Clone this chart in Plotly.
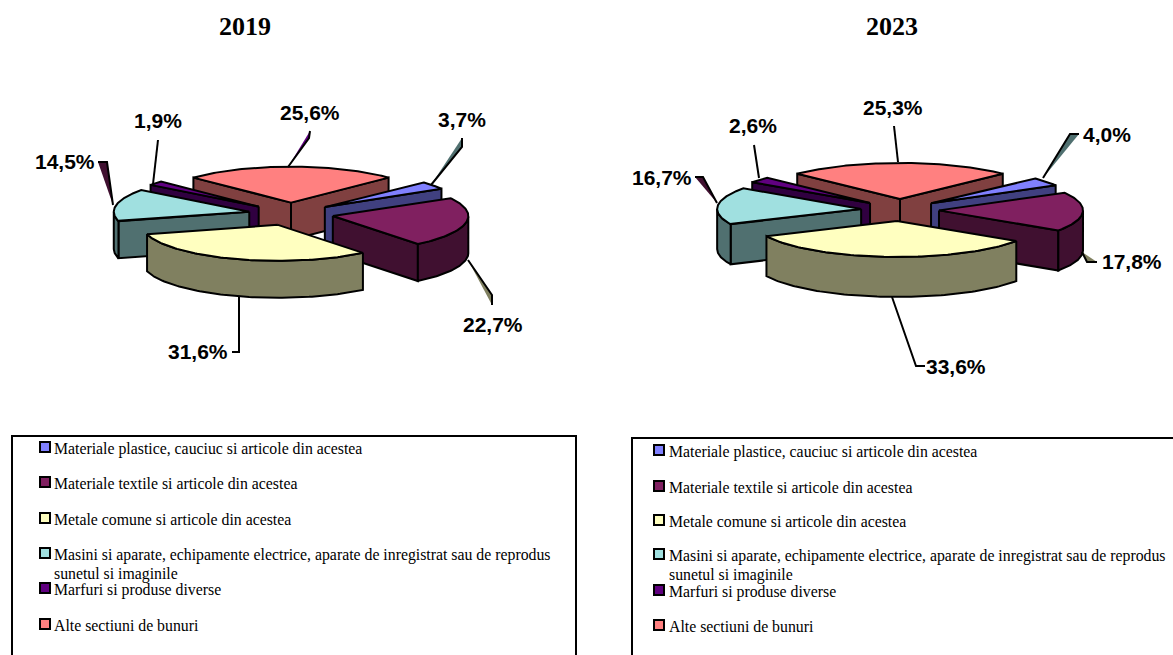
import numpy as np
import plotly.graph_objects as go

categories = ["Materiale plastice, cauciuc si articole din acestea",
              "Materiale textile si articole din acestea",
              "Metale comune si articole din acestea",
              "Masini si aparate, echipamente electrice, aparate de inregistrat sau de reprodus<br>sunetul si imaginile",
              "Marfuri si produse diverse",
              "Alte sectiuni de bunuri"]
values_2019 = [3.7, 22.7, 31.6, 14.5, 1.9, 25.6]
values_2023 = [4.0, 17.8, 33.6, 16.7, 2.6, 25.3]
top_colors = ["#8080FF", "#802060", "#FFFFC0", "#A0E0E0", "#600080", "#FF8080"]
side_colors = ["#404080", "#401030", "#808060", "#507070", "#300040", "#804040"]
draw_order = [5, 0, 4, 3, 1, 2]

fig = go.Figure()


def poly(xs, ys, color, width=2):
    fig.add_trace(go.Scatter(x=list(xs) + [xs[0]], y=list(ys) + [ys[0]], mode="lines", fill="toself",
                             fillcolor=color, line=dict(color="#000000", width=width), hoverinfo="skip"))


def pie(values, cx, cy, a, b, depth, ex_x, ex_y):
    vals = np.array(values, float)
    # the last slice is centred on the top of the ellipse
    start = vals[-1] * 1.8
    edges = start + np.concatenate([[0], np.cumsum(vals)[:-1]]) * 3.6
    for i in draw_order:
        t0 = edges[i]
        t1 = t0 + vals[i] * 3.6
        mid = np.radians((t0 + t1) / 2)
        tx = cx + ex_x * np.sin(mid)
        ty = cy - ex_y * np.cos(mid)
        th = np.radians(np.linspace(t0, t1, 90))
        ax = tx + a * np.sin(th)
        ay = ty - b * np.cos(th)
        # radial cut faces: the face is visible when its outward normal points down the page
        for (ex, ey, sign) in ((ax[0], ay[0], 1), (ax[-1], ay[-1], -1)):
            if sign * (ex - tx) < 0:
                poly([tx, ex, ex, tx], [ty, ey, ey + depth, ty + depth], side_colors[i])
        # rim, on the front half only
        front = np.cos(th) < 0
        if front.any():
            fx, fy = ax[front], ay[front]
            poly(list(fx) + list(fx[::-1]), list(fy) + list(fy[::-1] + depth), side_colors[i])
        poly([tx] + list(ax), [ty] + list(ay), top_colors[i])


pie(values_2019, 291, 214, 135.5, 36, 37, 42.5, 11.4)
pie(values_2023, 900, 210, 144, 36, 40, 39, 11)

# leader lines: x list, y list, colour that fills the bend of the line
leaders = [
    ([288, 309, 310], [167, 138, 131], "#600080"),
    ([153, 158], [184, 140], None),
    ([431, 462, 462], [185, 147, 138], "#507070"),
    ([468, 492, 492], [260, 295, 305], "#808060"),
    ([239, 239, 232], [297, 352, 352], None),
    ([113, 107, 98], [205, 162, 162], "#401030"),
    ([898, 894], [162, 126], None),
    ([759, 754], [178, 145], None),
    ([1043, 1070, 1079], [178, 134, 134], "#507070"),
    ([1082, 1087, 1097], [252, 262, 262], "#808060"),
    ([892, 916, 925], [297, 366, 366], None),
    ([717, 703, 695], [203, 177, 177], "#401030"),
]
for xs, ys, col in leaders:
    if col:
        fig.add_trace(go.Scatter(x=xs, y=ys, mode="lines", fill="toself", fillcolor=col,
                                 line=dict(color="#000000", width=2), hoverinfo="skip"))
    else:
        fig.add_trace(go.Scatter(x=xs, y=ys, mode="lines", line=dict(color="#000000", width=2), hoverinfo="skip"))

labels_2019 = ["25,6%", "3,7%", "22,7%", "31,6%", "14,5%", "1,9%"]
label_pos_2019 = [(310, 112), (462, 119), (493, 324), (198, 351), (65, 161), (158, 120)]
labels_2023 = ["25,3%", "4,0%", "17,8%", "33,6%", "16,7%", "2,6%"]
label_pos_2023 = [(893, 107), (1107, 134), (1132, 261), (956, 366), (662, 177), (753, 125)]

ann = []
for txt, (x, y) in list(zip(labels_2019, label_pos_2019)) + list(zip(labels_2023, label_pos_2023)):
    ann.append(dict(x=x, y=y, text="<b>" + txt + "</b>", showarrow=False, xanchor="center", yanchor="middle",
                    font=dict(family="Liberation Sans", size=21, color="#000000")))
for txt, x in (("2019", 245), ("2023", 892)):
    ann.append(dict(x=x, y=26, text="<b>" + txt + "</b>", showarrow=False, xanchor="center", yanchor="middle",
                    font=dict(family="Liberation Serif", size=26, color="#000000")))

legend_rows_2019 = [447, 482, 518, 553, 588, 624]
legend_rows_2023 = [450, 486, 520, 554, 590, 625]
for (rows, mx, tx) in ((legend_rows_2019, 45, 52), (legend_rows_2023, 659, 667)):
    fig.add_trace(go.Scatter(x=[mx] * 6, y=rows, mode="markers", hoverinfo="skip",
                             marker=dict(symbol="square", size=10, color=top_colors,
                                         line=dict(color="#000000", width=2))))
    for txt, y in zip(categories, rows):
        for k, part in enumerate(txt.split("<br>")):
            ann.append(dict(x=tx, y=y - 9 + 18.5 * k, text=part, showarrow=False, xanchor="left", yanchor="top",
                            align="left", font=dict(family="Liberation Serif", size=15.8, color="#000000")))

shapes = [dict(type="rect", x0=12, x1=576, y0=436, y1=670, line=dict(color="#000000", width=2)),
          dict(type="rect", x0=632, x1=1190, y0=438, y1=670, line=dict(color="#000000", width=2))]

fig.update_layout(width=1173, height=655, margin=dict(l=0, r=0, t=0, b=0), showlegend=False,
                  paper_bgcolor="#FFFFFF", plot_bgcolor="#FFFFFF", annotations=ann, shapes=shapes,
                  xaxis=dict(range=[0, 1173], visible=False, fixedrange=True),
                  yaxis=dict(range=[655, 0], visible=False, fixedrange=True))
fig.write_html("out.html", config=dict(displayModeBar=False),
               post_script="document.body.style.margin='0';document.documentElement.style.overflow='hidden';")
